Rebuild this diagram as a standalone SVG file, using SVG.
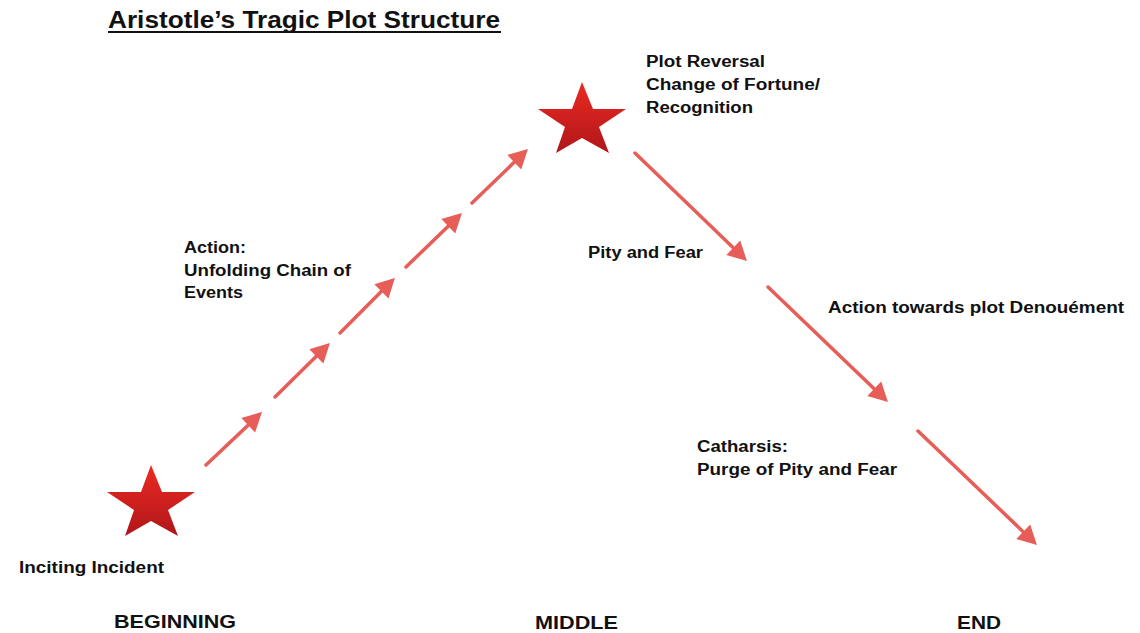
<svg xmlns="http://www.w3.org/2000/svg" width="1140" height="633" viewBox="0 0 1140 633">
<style>
.t{font-family:"Liberation Sans",Arial,sans-serif;font-weight:bold;fill:#111;}
.lbl{font-size:16px;}
.sec{font-size:19px;}
.arr{stroke:#e75d57;stroke-width:3.5;stroke-linecap:round;fill:none;marker-end:url(#ah);}
</style>
<defs>
<marker id="ah" viewBox="-22 -12 24 24" markerWidth="24" markerHeight="24" refX="-8" refY="0" orient="auto" markerUnits="userSpaceOnUse">
<path d="M0,0 L-19,-10 L-19,10 Z" fill="#e75d57"/>
</marker>
<linearGradient id="sg" x1="0" y1="0" x2="0" y2="1">
<stop offset="0" stop-color="#ec2a22"/>
<stop offset="1" stop-color="#b0161a"/>
</linearGradient>
<polygon id="star" points="151,465 162,492 195,492 168,510 178,536 151,521 125,536 134,510 107,492 141,492" fill="url(#sg)"/>
</defs>
<rect width="1140" height="633" fill="#fff"/>
<g id="title">
<text class="t" x="108" y="28" font-size="23" textLength="392" lengthAdjust="spacingAndGlyphs">Aristotle’s Tragic Plot Structure</text>
<line x1="108" y1="32" x2="501" y2="32" stroke="#111" stroke-width="2"/>
</g>
<g id="connectors">
<line class="arr" x1="206" y1="465" x2="256.2" y2="417.6"/>
<line class="arr" x1="275" y1="397" x2="324.2" y2="348.6"/>
<line class="arr" x1="340" y1="333" x2="389.2" y2="283.6"/>
<line class="arr" x1="406" y1="267" x2="456.2" y2="218.6"/>
<line class="arr" x1="472" y1="203" x2="522.2" y2="154.6"/>
<line class="arr" x1="635" y1="153" x2="741.2" y2="255.4"/>
<line class="arr" x1="768" y1="287" x2="882.2" y2="396.4"/>
<line class="arr" x1="918" y1="431" x2="1031.2" y2="539.4"/>
</g>
<g id="inciting">
<use href="#star"/>
<text class="t lbl" x="19" y="573" textLength="145" lengthAdjust="spacingAndGlyphs">Inciting Incident</text>
</g>
<g id="reversal">
<use href="#star" transform="translate(431,-383)"/>
<text class="t lbl" x="646" y="67" textLength="119" lengthAdjust="spacingAndGlyphs">Plot Reversal</text>
<text class="t lbl" x="646" y="90" textLength="174" lengthAdjust="spacingAndGlyphs">Change of Fortune/</text>
<text class="t lbl" x="646" y="113" textLength="107" lengthAdjust="spacingAndGlyphs">Recognition</text>
</g>
<g id="action">
<text class="t lbl" x="184" y="253" textLength="62" lengthAdjust="spacingAndGlyphs">Action:</text>
<text class="t lbl" x="184" y="276" textLength="167" lengthAdjust="spacingAndGlyphs">Unfolding Chain of</text>
<text class="t lbl" x="184" y="298" textLength="59" lengthAdjust="spacingAndGlyphs">Events</text>
</g>
<g id="pity">
<text class="t lbl" x="588" y="258" textLength="115" lengthAdjust="spacingAndGlyphs">Pity and Fear</text>
</g>
<g id="denouement">
<text class="t lbl" x="828" y="313" textLength="296" lengthAdjust="spacingAndGlyphs">Action towards plot Denouément</text>
</g>
<g id="catharsis">
<text class="t lbl" x="697" y="452" textLength="91" lengthAdjust="spacingAndGlyphs">Catharsis:</text>
<text class="t lbl" x="697" y="475" textLength="200" lengthAdjust="spacingAndGlyphs">Purge of Pity and Fear</text>
</g>
<g id="sections">
<text class="t sec" x="114" y="628" textLength="122" lengthAdjust="spacingAndGlyphs">BEGINNING</text>
<text class="t sec" x="535" y="629" textLength="83" lengthAdjust="spacingAndGlyphs">MIDDLE</text>
<text class="t sec" x="957" y="629" textLength="44" lengthAdjust="spacingAndGlyphs">END</text>
</g>
</svg>
